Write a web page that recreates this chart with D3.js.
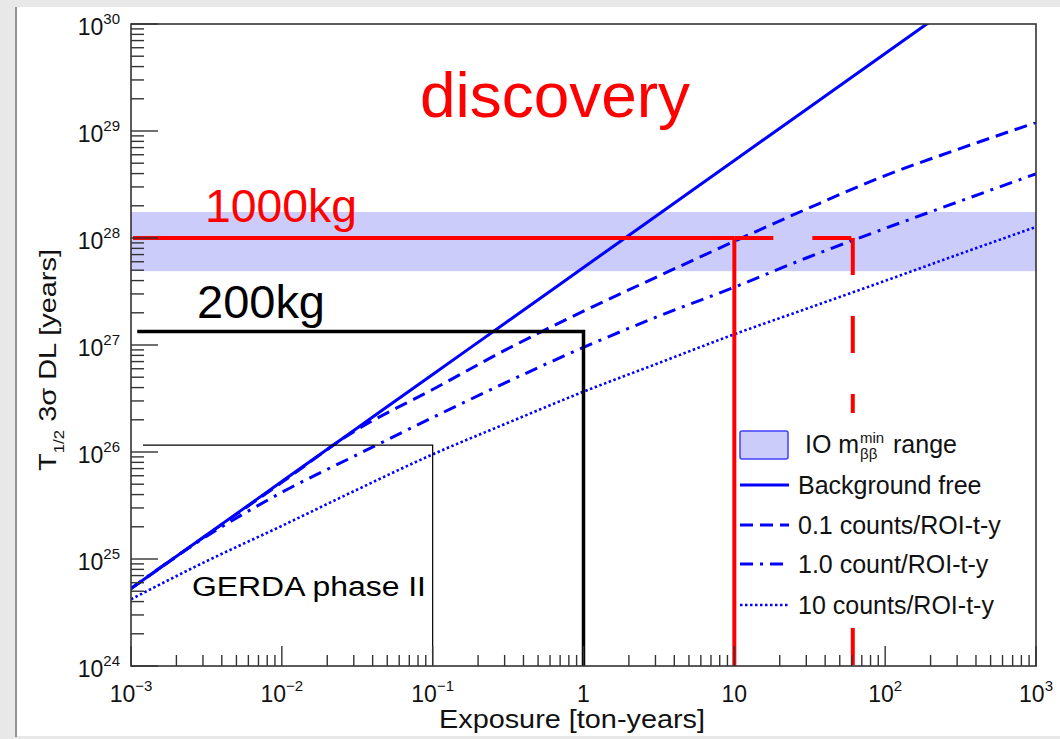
<!DOCTYPE html>
<html>
<head>
<meta charset="utf-8">
<script src="https://cdn.jsdelivr.net/npm/d3@7"></script>
<style>
  body { margin: 0; background: #e8e8e8; }
  svg { display: block; }
  text { font-family: "Liberation Sans", Arial, Helvetica, sans-serif; }
</style>
</head>
<body>
<div id="chart"></div>
<script>
// exposure grid [ton-years] the curves were read at
const exposure = [1e-3, 3e-3, 1e-2, 3e-2, 1e-1, 3e-1, 1, 3, 10, 30, 100, 300, 1000];

// T1/2 3 sigma discovery level [years]
const bkgFree = [5.3e24, 1.59e25, 5.3e25, 1.59e26, 5.3e26, 1.59e27, 5.3e27, 1.59e28, 5.3e28, 1.59e29, 5.3e29, 1.59e30, 5.3e30];
const bkg01   = [5.3e24, 1.58e25, 5.2e25, 1.55e26, 3.84e26, 8.9e26, 2.07e27, 4.27e27, 9.3e27, 1.86e28, 3.83e28, 6.7e28, 1.2e29];
const bkg1    = [5.3e24, 1.55e25, 4.2e25, 9.1e25, 2.1e26, 4.4e26, 9.5e26, 1.81e27, 3.47e27, 6.5e27, 1.23e28, 2.16e28, 3.98e28];
const bkg10   = [4.2e24, 9.2e24, 2.04e25, 4.3e25, 9.5e25, 1.82e26, 3.66e26, 6.6e26, 1.26e27, 2.18e27, 3.98e27, 6.95e27, 1.27e28];

// IO m_bb^min range band [years]
const ioBand = [4.9e27, 1.75e28];

// experiment marks: [exposure start, exposure end, T1/2 level]
const ton1000 = [1.03e-3, 10, 1e28];
const ton1000Dashed = [10, 61, 1e28];
const kg200 = [1.1e-3, 1, 1.34e27];
const gerda = [1.2e-3, 0.1, 1.16e26];

const legendLabels = ["Background free", "0.1 counts/ROI-t-y", "1.0 count/ROI-t-y", "10 counts/ROI-t-y"];

const xExpLabels = { "-3": "−3", "-2": "−2", "-1": "−1", "0": "", "1": "", "2": "2", "3": "3" };
const xBaseLabels = { "-3": "10", "-2": "10", "-1": "10", "0": "1", "1": "10", "2": "10", "3": "10" };

const width = 1060, height = 739;
const plot = { left: 131, right: 1036, top: 24, bottom: 666 };

const svg = d3.select('#chart').append('svg')
  .attr('width', width)
  .attr('height', height);

// canvas background like the screenshot
svg.append('rect').attr('width', width).attr('height', height).attr('fill', '#e8e8e8');
svg.append('rect').attr('x', 17).attr('y', 7).attr('width', width - 17).attr('height', 729).attr('fill', '#fff');
svg.append('line').attr('x1', 16).attr('x2', 16).attr('y1', 7).attr('y2', 737)
  .attr('stroke', '#777').attr('stroke-width', 1.5);

const x = d3.scaleLog().domain([1e-3, 1e3]).range([plot.left, plot.right]);
const y = d3.scaleLog().domain([1e24, 1e30]).range([plot.bottom, plot.top]);

svg.append('clipPath').attr('id', 'clip')
  .append('rect')
  .attr('x', plot.left).attr('y', plot.top)
  .attr('width', plot.right - plot.left).attr('height', plot.bottom - plot.top);

const g = svg.append('g').attr('clip-path', 'url(#clip)');

// IO band
g.append('rect')
  .attr('x', plot.left)
  .attr('width', plot.right - plot.left)
  .attr('y', y(ioBand[1]))
  .attr('height', y(ioBand[0]) - y(ioBand[1]))
  .attr('fill', '#ccccfa');

// sensitivity curves
const line = d3.line()
  .x(d => x(d[0]))
  .y(d => y(d[1]))
  .curve(d3.curveMonotoneX);

const curves = [
  { values: bkgFree, dash: null, w: 3 },
  { values: bkg01, dash: '13,7', w: 3 },
  { values: bkg1, dash: '13,7,3,7', w: 3 },
  { values: bkg10, dash: '2.5,2.5', w: 2.6 }
];

g.selectAll('path.curve')
  .data(curves)
  .join('path')
    .attr('class', 'curve')
    .attr('d', c => line(exposure.map((e, i) => [e, c.values[i]])))
    .attr('fill', 'none')
    .attr('stroke', '#0000ff')
    .attr('stroke-width', c => c.w)
    .attr('stroke-dasharray', c => c.dash);

// GERDA box (thin)
g.append('path')
  .attr('d', `M${x(gerda[0])},${y(gerda[2])}H${x(gerda[1])}V${y(1e24)}`)
  .attr('fill', 'none').attr('stroke', '#000').attr('stroke-width', 1.2);

// 200 kg
g.append('path')
  .attr('d', `M${x(kg200[0])},${y(kg200[2])}H${x(kg200[1])}V${y(1e24)}`)
  .attr('fill', 'none').attr('stroke', '#000').attr('stroke-width', 3.5);

// 1000 kg
g.append('path')
  .attr('d', `M${x(ton1000[0])},${y(ton1000[2])}H${x(ton1000[1])}`)
  .attr('fill', 'none').attr('stroke', '#ff0000').attr('stroke-width', 4);
g.append('path')
  .attr('d', `M${x(ton1000[1])},${y(ton1000[2])}V${y(1e24)}`)
  .attr('fill', 'none').attr('stroke', '#ff0000').attr('stroke-width', 4);
g.append('path')
  .attr('d', `M${x(ton1000Dashed[0])},${y(ton1000Dashed[2])}H${x(ton1000Dashed[1])}`)
  .attr('fill', 'none').attr('stroke', '#ff0000').attr('stroke-width', 4)
  .attr('stroke-dasharray', '39,39');
g.append('path')
  .attr('d', `M${x(ton1000Dashed[1])},${y(ton1000Dashed[2])}V${y(1e24)}`)
  .attr('fill', 'none').attr('stroke', '#ff0000').attr('stroke-width', 4)
  .attr('stroke-dasharray', '37,41');

// legend
const leg = svg.append('g');
leg.append('rect')
  .attr('x', 737).attr('y', 413).attr('width', 297).attr('height', 214)
  .attr('fill', '#fff');
leg.append('rect')
  .attr('x', 740).attr('y', 431).attr('width', 48).attr('height', 28).attr('rx', 2)
  .attr('fill', '#ccccfa').attr('stroke', '#4040ff').attr('stroke-width', 1.5);
leg.append('text').attr('x', 805).attr('y', 453).attr('font-size', 25).attr('fill', '#111').text('IO m');
leg.append('text').attr('x', 860).attr('y', 443).attr('font-size', 15).attr('fill', '#111').text('min');
leg.append('text').attr('x', 860).attr('y', 459).attr('font-size', 15).attr('fill', '#111').text('ββ');
leg.append('text').attr('x', 893).attr('y', 453).attr('font-size', 25).attr('fill', '#111').text('range');

const legY = [485, 525, 564, 605];
leg.selectAll('line.sample')
  .data(curves)
  .join('line')
    .attr('class', 'sample')
    .attr('x1', 740).attr('x2', 789)
    .attr('y1', (c, i) => legY[i]).attr('y2', (c, i) => legY[i])
    .attr('stroke', '#0000ff')
    .attr('stroke-width', c => c.w)
    .attr('stroke-dasharray', c => c.dash);
leg.selectAll('text.entry')
  .data(legendLabels)
  .join('text')
    .attr('class', 'entry')
    .attr('x', 798)
    .attr('y', (d, i) => legY[i] + 9)
    .attr('font-size', 25)
    .attr('fill', '#111')
    .text(d => d);

// frame
svg.append('rect')
  .attr('x', plot.left).attr('y', plot.top)
  .attr('width', plot.right - plot.left).attr('height', plot.bottom - plot.top)
  .attr('fill', 'none').attr('stroke', '#333').attr('stroke-width', 1.6);

const isMajor = v => Math.abs(Math.log10(v) - Math.round(Math.log10(v))) < 1e-9;

// x ticks
svg.append('g').selectAll('line')
  .data(x.ticks())
  .join('line')
    .attr('x1', d => x(d)).attr('x2', d => x(d))
    .attr('y1', plot.bottom)
    .attr('y2', d => plot.bottom - (isMajor(d) ? 20 : 11))
    .attr('stroke', '#333').attr('stroke-width', 1.4);

// y ticks
svg.append('g').selectAll('line')
  .data(y.ticks())
  .join('line')
    .attr('y1', d => y(d)).attr('y2', d => y(d))
    .attr('x1', plot.left)
    .attr('x2', d => plot.left + (isMajor(d) ? 27 : 13))
    .attr('stroke', '#333').attr('stroke-width', 1.4);

// x tick labels
const xl = svg.append('g').selectAll('text')
  .data(x.ticks().filter(isMajor))
  .join('text')
    .attr('x', d => x(d))
    .attr('y', 702)
    .attr('text-anchor', 'middle')
    .attr('fill', '#111');
xl.append('tspan').attr('font-size', 23).text(d => xBaseLabels[Math.round(Math.log10(d))]);
xl.append('tspan').attr('font-size', 15).attr('dy', -11).text(d => xExpLabels[Math.round(Math.log10(d))]);

// y tick labels
const yl = svg.append('g').selectAll('text')
  .data(y.ticks().filter(isMajor))
  .join('text')
    .attr('x', 120)
    .attr('y', d => y(d) + 11)
    .attr('text-anchor', 'end')
    .attr('fill', '#111');
yl.append('tspan').attr('font-size', 23).text('10');
yl.append('tspan').attr('font-size', 15).attr('dy', -11).text(d => Math.round(Math.log10(d)));

// axis titles
svg.append('text')
  .attr('x', 572)
  .attr('y', 728)
  .attr('text-anchor', 'middle')
  .attr('font-size', 25)
  .attr('fill', '#111')
  .attr('textLength', 266).attr('lengthAdjust', 'spacingAndGlyphs')
  .text('Exposure [ton-years]');

const yt = svg.append('text')
  .attr('transform', 'translate(56,360) rotate(-90)')
  .attr('text-anchor', 'middle')
  .attr('font-size', 24)
  .attr('fill', '#111')
  .attr('textLength', 222).attr('lengthAdjust', 'spacingAndGlyphs');
yt.append('tspan').text('T');
yt.append('tspan').attr('font-size', 14).attr('dy', 8).text('1/2');
yt.append('tspan').attr('dy', -8).text(' 3σ DL [years]');

// annotations
svg.append('text').attr('x', 420).attr('y', 117).attr('font-size', 63)
  .attr('fill', '#ff0000').attr('textLength', 270).attr('lengthAdjust', 'spacingAndGlyphs')
  .text('discovery');
svg.append('text').attr('x', 205).attr('y', 222).attr('font-size', 46)
  .attr('fill', '#ff0000').attr('textLength', 152).attr('lengthAdjust', 'spacingAndGlyphs')
  .text('1000kg');
svg.append('text').attr('x', 197).attr('y', 318).attr('font-size', 46)
  .attr('fill', '#000').attr('textLength', 128).attr('lengthAdjust', 'spacingAndGlyphs')
  .text('200kg');
svg.append('text').attr('x', 192).attr('y', 596).attr('font-size', 27)
  .attr('fill', '#000').attr('textLength', 234).attr('lengthAdjust', 'spacingAndGlyphs')
  .text('GERDA phase II');
</script>
</body>
</html>
